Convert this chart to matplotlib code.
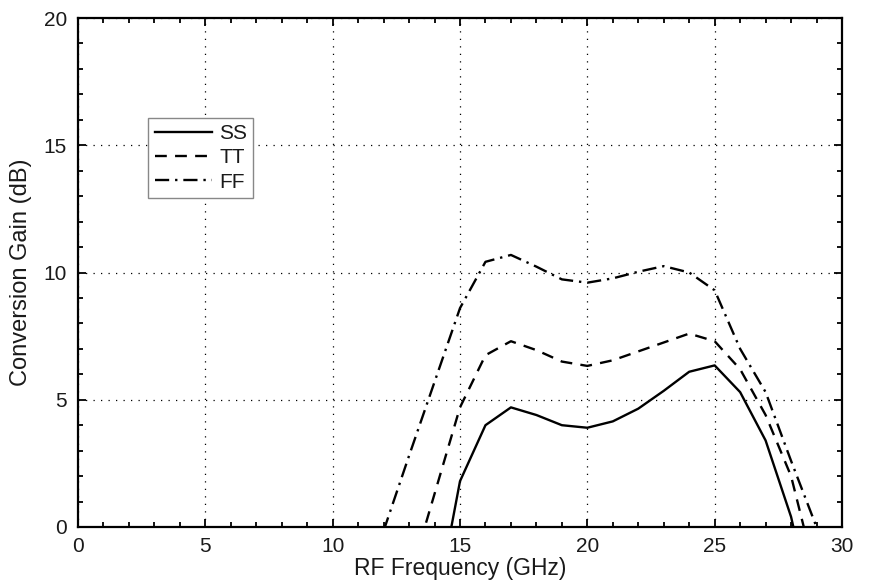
import matplotlib
matplotlib.use("Agg")
from matplotlib import pyplot as plt
from matplotlib.ticker import MultipleLocator

plt.rcParams['font.family'] = ['Liberation Sans', 'DejaVu Sans']

# Data (RF frequency in GHz, gain in dB)
freq_ss = [14, 15, 16, 17, 18, 19, 20, 21, 22, 23, 24, 25, 26, 27, 28, 29]
gain_ss = [-3.5, 1.8, 4.0, 4.7, 4.4, 4.0, 3.9, 4.15, 4.65, 5.35, 6.1, 6.35, 5.3, 3.4, 0.4, -4.0]

freq_tt = [13, 14, 15, 16, 17, 18, 19, 20, 21, 22, 23, 24, 25, 26, 27, 28, 29]
gain_tt = [-2.1, 1.3, 4.7, 6.75, 7.3, 6.95, 6.5, 6.33, 6.55, 6.9, 7.25, 7.6, 7.3, 6.2, 4.4, 2.0, -2.0]

freq_ff = [12, 13, 14, 15, 16, 17, 18, 19, 20, 21, 22, 23, 24, 25, 26, 27, 28, 29, 30]
gain_ff = [-0.15, 2.8, 5.7, 8.6, 10.42, 10.69, 10.23, 9.73, 9.6, 9.77, 10.03, 10.25, 10.0, 9.3, 7.0, 5.3, 2.6, 0.0, -3.0]

txt = '#1a1a1a'

fig = plt.figure(figsize=(8.69, 5.87), dpi=100)
ax = fig.add_axes([78 / 869, 1 - 527 / 587, 764 / 869, 509 / 587])

ax.plot(freq_ss, gain_ss, color='black', linestyle='-', linewidth=1.7, label='SS')
ax.plot(freq_tt, gain_tt, color='black', linestyle=(0, (5, 3.5)), linewidth=1.7, label='TT')
ax.plot(freq_ff, gain_ff, color='black', linestyle=(0, (6, 2.5, 1, 2.5)), linewidth=1.7, label='FF')

ax.set_xlim(0, 30)
ax.set_ylim(0, 20)
ax.xaxis.set_major_locator(MultipleLocator(5))
ax.yaxis.set_major_locator(MultipleLocator(5))
ax.xaxis.set_minor_locator(MultipleLocator(1))
ax.yaxis.set_minor_locator(MultipleLocator(1))
ax.tick_params(which='both', direction='in', top=True, right=True, width=1.3,
               labelsize=15, labelcolor=txt)
ax.tick_params(which='major', length=6)
ax.tick_params(which='minor', length=3.5)
ax.tick_params(axis='x', which='major', pad=7)
ax.tick_params(axis='y', which='major', pad=8)
for sp in ax.spines.values():
    sp.set_linewidth(1.6)

ax.grid(True, which='major', color='black', linestyle=(0, (1, 5)), linewidth=0.9)

ax.set_xlabel('RF Frequency (GHz)', fontsize=16.5, labelpad=1, color=txt)
ax.set_ylabel('Conversion Gain (dB)', fontsize=17, labelpad=8, color=txt)

leg = ax.legend(loc='upper left', bbox_to_anchor=(0.092, 0.8035), borderaxespad=0,
                fontsize=15, fancybox=False, framealpha=1, edgecolor='#888888',
                handlelength=2.75, handletextpad=0.35, borderpad=0.3, labelspacing=0.25)
leg.get_frame().set_linewidth(1.0)
for t in leg.get_texts():
    t.set_color(txt)

fig.savefig('out.png', dpi=100)
